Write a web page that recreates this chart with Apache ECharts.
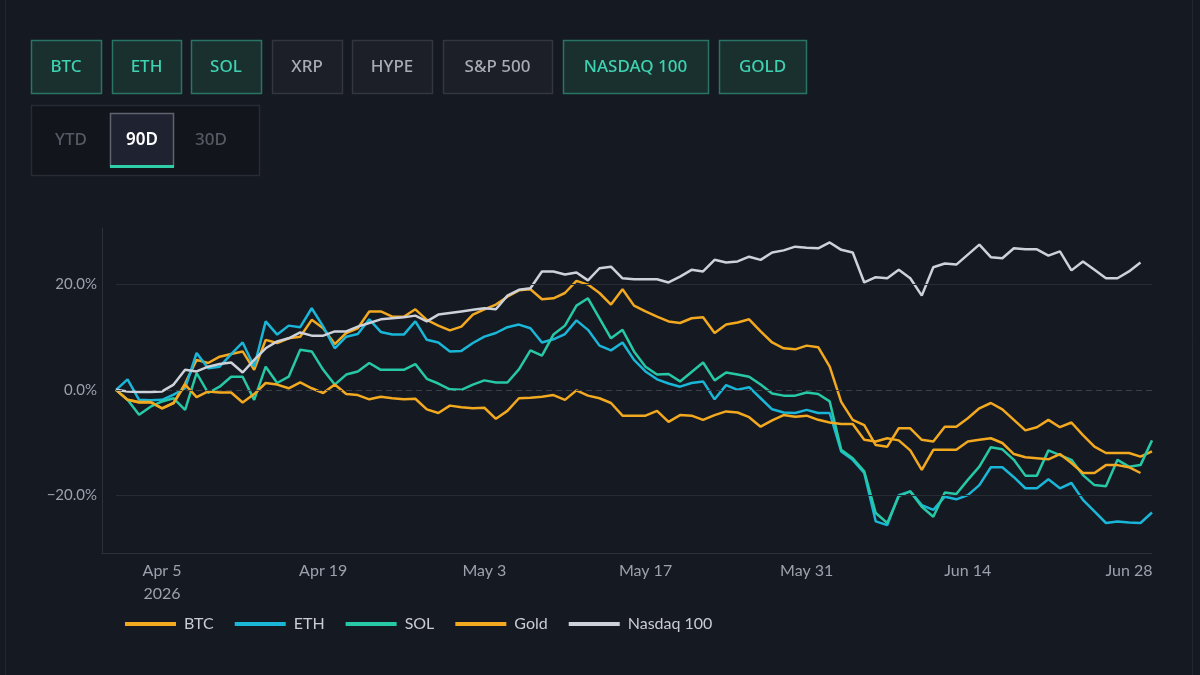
<!DOCTYPE html>
<html>
  <head>
    <meta charset="utf-8" />
    <title>Asset performance 90D</title>
    <script src="https://cdn.jsdelivr.net/npm/echarts@6/dist/echarts.min.js"></script>
    <style>
      * {
        margin: 0;
        padding: 0;
      }
      html,
      body,
      #container {
        width: 100%;
        height: 100%;
        background: #151922;
      }
    </style>
  </head>
  <body>
    <div id="container"></div>
    <script>
      // day 0 = Apr 1 2026, one point per day
      const tickDays = [4, 18, 32, 46, 60, 74, 88];
      const tickLabels = ["Apr 5\n2026", "Apr 19", "May 3", "May 17", "May 31", "Jun 14", "Jun 28"];
      const yTicks = [-20, 0, 20];

      const btc = [
        0, -1.9, -2.4, -2.4, -3.5, -2.5, 1.2, 5.7, 5.1, 6.3,
        6.8, 7.3, 3.8, 9.5, 8.9, 9.8, 10.1, 13.3, 11.7, 8.7,
        10.8, 11.7, 14.9, 14.9, 13.9, 13.9, 15.3, 13.3, 12.2, 11.3,
        12.0, 14.3, 15.3, 16.2, 17.7, 18.9, 19.1, 17.2, 17.4, 18.4,
        20.7, 20.0, 18.4, 16.2, 19.1, 16.0, 14.9, 13.9, 13.0, 12.7,
        13.6, 13.8, 10.8, 12.4, 12.8, 13.4, 11.1, 9.0, 7.9, 7.7,
        8.4, 8.1, 4.4, -2.3, -5.7, -6.7, -10.5, -10.8, -7.3, -7.3,
        -9.5, -9.8, -7.0, -7.0, -5.4, -3.5, -2.5, -3.7, -5.7, -7.7,
        -7.1, -5.7, -7.1, -6.2, -8.6, -10.8, -12.0, -12.0, -12.0, -12.7,
        -11.7
      ];
      const eth = [
        0, 2.0, -1.9, -2.0, -1.9, -0.9, 0.3, 7.0, 4.1, 4.4,
        6.8, 9.0, 4.4, 13.0, 10.5, 12.2, 11.9, 15.5, 12.0, 7.9,
        10.1, 10.6, 13.4, 11.0, 10.5, 10.5, 13.0, 9.5, 9.0, 7.3,
        7.4, 8.9, 10.1, 10.8, 11.9, 12.4, 11.7, 9.0, 9.6, 10.6,
        13.2, 11.4, 8.4, 7.5, 9.0, 5.7, 3.5, 2.0, 1.2, 0.6,
        1.3, 1.6, -1.8, 0.9, 0, 0.5, -1.6, -3.7, -4.3, -4.4,
        -3.8, -4.4, -4.4, -11.7, -13.3, -15.8, -25.0, -25.7, -20.0, -19.3,
        -21.9, -22.8, -20.3, -20.8, -20.0, -18.1, -14.7, -14.7, -16.6, -18.7,
        -18.7, -17.0, -18.7, -17.7, -20.9, -23.1, -25.3, -25.0, -25.2, -25.3,
        -23.3
      ];
      const sol = [
        0, -1.9, -4.75, -3.2, -2.2, -1.6, -3.8, 3.2, -0.6, 0.6,
        2.5, 2.5, -1.9, 4.4, 1.3, 2.5, 7.6, 7.3, 3.8, 1.0,
        2.9, 3.5, 5.1, 3.8, 3.8, 3.8, 4.9, 2.1, 1.2, 0.1,
        0, 1.0, 1.8, 1.4, 1.4, 3.9, 7.5, 6.5, 10.5, 12.2,
        16.0, 17.4, 13.6, 9.8, 11.4, 7.3, 4.4, 2.9, 3.0, 1.6,
        3.4, 5.2, 1.8, 3.3, 2.9, 2.5, 1.0, -0.7, -1.1, -1.1,
        -0.5, -0.8, -2.2, -11.4, -13.0, -15.5, -23.4, -25.3, -20.2, -19.3,
        -22.2, -24.1, -19.5, -19.8, -17.1, -14.6, -10.9, -11.3, -13.3, -16.3,
        -16.3, -11.5, -12.4, -13.3, -16.2, -18.1, -18.3, -13.3, -14.6, -14.3,
        -9.6
      ];
      const gold = [
        0, -1.9, -2.3, -2.3, -3.5, -2.5, 1.0, -1.4, -0.3, -0.5,
        -0.5, -2.4, -0.8, 1.3, 1.0, 0.3, 1.4, 0.3, -0.6, 1.0,
        -0.8, -1.0, -1.8, -1.3, -1.6, -1.8, -1.7, -3.7, -4.4, -3.0,
        -3.3, -3.5, -3.4, -5.5, -4.0, -1.6, -1.5, -1.3, -1.0, -1.9,
        -0.1, -1.1, -1.6, -2.5, -4.9, -4.9, -4.9, -4.0, -6.1, -4.8,
        -4.9, -5.7, -4.8, -4.1, -4.3, -5.2, -7.0, -5.8, -4.8, -5.1,
        -4.9, -5.7, -6.2, -6.5, -6.5, -9.5, -9.8, -9.2, -9.6, -11.5,
        -15.2, -11.4, -11.4, -11.4, -9.8, -9.5, -9.2, -10.1, -12.2, -12.8,
        -13.0, -13.2, -12.2, -13.9, -15.8, -15.8, -14.3, -14.3, -14.7, -15.8
      ];
      const nasdaq = [
        0, -0.3, -0.4, -0.4, -0.3, 1.0, 3.8, 3.5, 4.4, 4.9,
        5.2, 3.3, 5.7, 7.9, 9.2, 9.8, 10.9, 10.3, 10.3, 11.1,
        11.1, 12.0, 12.7, 13.4, 13.6, 13.8, 14.1, 13.0, 14.3, 14.6,
        14.9, 15.2, 15.5, 15.3, 17.9, 19.0, 19.3, 22.5, 22.5, 21.9,
        22.3, 20.8, 23.1, 23.4, 21.2, 21.0, 21.0, 21.0, 20.4, 21.5,
        22.8, 22.5, 24.7, 24.2, 24.4, 25.3, 24.7, 26.1, 26.5, 27.2,
        27.0, 26.9, 28.0, 26.6, 26.1, 20.4, 21.4, 21.2, 22.8, 21.2,
        17.9, 23.3, 24.0, 23.8, 25.7, 27.6, 25.2, 25.0, 26.9, 26.7,
        26.7, 25.5, 26.3, 22.7, 24.4, 22.8, 21.2, 21.2, 22.5, 24.2
      ];

      const assetButtons = ["BTC", "ETH", "SOL", "XRP", "HYPE", "S&P 500", "NASDAQ 100", "GOLD"];
      const assetActive = [true, true, true, false, false, false, true, true];
      const rangeButtons = ["YTD", "90D", "30D"];

      const toPairs = (arr) => arr.map((v, i) => [i, v]);
      const lastDay = btc.length - 1;

      // button layout (x, width)
      const btnBox = [[31, 70], [112, 69], [191, 70], [272, 70], [352, 80], [443, 109], [563, 145], [719, 87]];
      const graphics = [
        {
          type: "rect",
          shape: { x: 5.5, y: -10, width: 1187, height: 700 },
          style: { fill: "none", stroke: "#222630", lineWidth: 1 },
          silent: true,
        },
      ];
      assetButtons.forEach((name, i) => {
        const on = assetActive[i];
        const [x, w] = btnBox[i];
        graphics.push({
          type: "rect",
          shape: { x: x + 0.5, y: 40.5, width: w, height: 53 },
          style: {
            fill: on ? "#19302f" : "#1c1f28",
            stroke: on ? "#2a7466" : "#32363f",
            lineWidth: 1.5,
          },
        });
        graphics.push({
          type: "text",
          x: x + w / 2,
          y: 67,
          style: {
            text: name,
            fill: on ? "#3fd2b1" : "#a7abb4",
            font: "500 17px 'Noto Sans'",
            align: "center",
            verticalAlign: "middle",
          },
        });
      });
      graphics.push({
        type: "rect",
        shape: { x: 31.5, y: 105.5, width: 228, height: 70 },
        style: { fill: "#12151c", stroke: "#272b33", lineWidth: 1.5 },
      });
      graphics.push({
        type: "rect",
        shape: { x: 110.5, y: 113.5, width: 63, height: 53 },
        style: { fill: "#1e2231", stroke: "#60646e", lineWidth: 1.5 },
      });
      graphics.push({
        type: "rect",
        shape: { x: 110, y: 165, width: 64, height: 3 },
        style: { fill: "#2ecfa8" },
      });
      const rangeX = [71, 142, 211];
      rangeButtons.forEach((name, i) => {
        graphics.push({
          type: "text",
          x: rangeX[i],
          y: 140,
          style: {
            text: name,
            fill: i === 1 ? "#ffffff" : "#555a64",
            font: (i === 1 ? "600 " : "500 ") + "17px 'Noto Sans'",
            align: "center",
            verticalAlign: "middle",
          },
        });
      });

      const lineSeries = (name, data, color) => ({
        name: name,
        type: "line",
        data: toPairs(data),
        showSymbol: false,
        symbol: "none",
        smooth: false,
        lineStyle: { width: 2.5, color: color },
        itemStyle: { color: color },
        emphasis: { disabled: true },
      });

      const btcSeries = lineSeries("BTC", btc, "#f2a91f");
      btcSeries.markLine = {
        silent: true,
        symbol: "none",
        label: { show: false },
        data: [
          [{ coord: [0, 20], lineStyle: { color: "#272b34", type: "solid", width: 1 } }, { coord: [lastDay, 20] }],
          [{ coord: [0, 0], lineStyle: { color: "#3b3f49", type: [6, 4], width: 1 } }, { coord: [lastDay, 0] }],
          [{ coord: [0, -20], lineStyle: { color: "#272b34", type: "solid", width: 1 } }, { coord: [lastDay, -20] }],
        ],
      };

      var myChart = echarts.init(document.getElementById("container"));
      myChart.setOption({
        backgroundColor: "#151922",
        animation: false,
        textStyle: { fontFamily: "Lato" },
        graphic: graphics,
        grid: { left: 102, right: 48, top: 228, bottom: 122, outerBoundsMode: "none" },
        legend: {
          data: ["BTC", "ETH", "SOL", "Gold", "Nasdaq 100"],
          left: 120,
          top: 611,
          icon: "rect",
          itemWidth: 51,
          itemHeight: 4,
          itemGap: 21,
          textStyle: { color: "#c9ccd3", fontSize: 16, padding: [0, 0, 0, 3] },
        },
        xAxis: {
          type: "value",
          min: -1.22,
          max: lastDay,
          axisLine: { show: true, onZero: false, lineStyle: { color: "#2d313a" } },
          axisTick: { show: false },
          splitLine: { show: false },
          axisLabel: {
            customValues: tickDays,
            formatter: (v) => tickLabels[tickDays.indexOf(v)] || "",
            color: "#9ca1ab",
            fontSize: 16,
            lineHeight: 23,
            margin: 6,
          },
        },
        yAxis: {
          type: "value",
          min: -31,
          max: 30.75,
          axisLine: { show: true, onZero: false, lineStyle: { color: "#2d313a" } },
          axisTick: { show: false },
          splitLine: { show: false },
          axisLabel: {
            customValues: yTicks,
            formatter: (v) => (v < 0 ? "\u2212" : "") + Math.abs(v).toFixed(1) + "%",
            color: "#9ca1ab",
            fontSize: 15,
            margin: 5,
          },
        },
        series: [
          btcSeries,
          lineSeries("ETH", eth, "#1ab6d8"),
          lineSeries("SOL", sol, "#27c8a5"),
          lineSeries("Gold", gold, "#f2a91f"),
          lineSeries("Nasdaq 100", nasdaq, "#cdd1da"),
        ],
      });
    </script>
  </body>
</html>
